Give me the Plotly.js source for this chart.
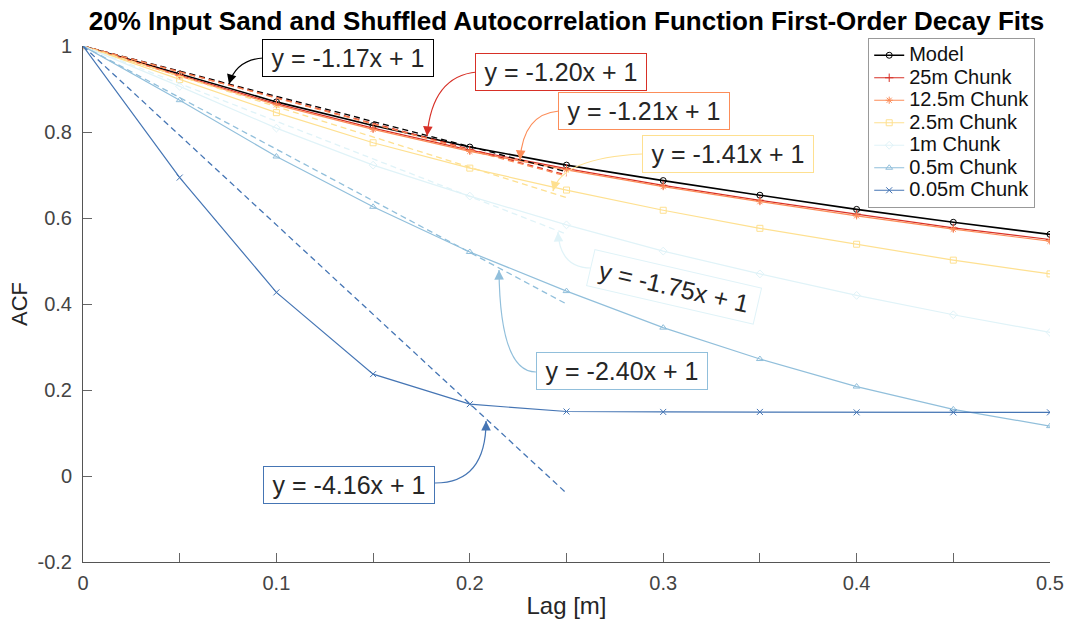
<!DOCTYPE html>
<html>
<head>
<meta charset="utf-8">
<script src="https://cdn.plot.ly/plotly-3.0.1.min.js"></script>
<style>html,body{margin:0;padding:0;background:#fff;}#chart{width:1073px;height:626px;}</style>
</head>
<body>
<div id="chart"></div>
<script>
// ---- data ----
const lags = [0, 0.05, 0.1, 0.15, 0.2, 0.25, 0.3, 0.35, 0.4, 0.45, 0.5];
const seriesNames = ["Model", "25m Chunk", "12.5m Chunk", "2.5m Chunk", "1m Chunk", "0.5m Chunk", "0.05m Chunk"];
const acfModel   = [1, 0.935, 0.870, 0.815, 0.765, 0.723, 0.687, 0.653, 0.620, 0.590, 0.562];
const acf25m     = [1, 0.932, 0.866, 0.809, 0.758, 0.715, 0.676, 0.641, 0.609, 0.577, 0.550];
const acf12_5m   = [1, 0.930, 0.863, 0.806, 0.755, 0.712, 0.673, 0.638, 0.605, 0.574, 0.546];
const acf2_5m    = [1, 0.922, 0.845, 0.775, 0.716, 0.665, 0.618, 0.576, 0.539, 0.502, 0.470];
const acf1m      = [1, 0.906, 0.809, 0.723, 0.651, 0.584, 0.523, 0.470, 0.420, 0.375, 0.334];
const acf0_5m    = [1, 0.874, 0.743, 0.626, 0.521, 0.430, 0.345, 0.272, 0.208, 0.155, 0.116];
const acf0_05m   = [1, 0.694, 0.427, 0.237, 0.167, 0.150, 0.149, 0.149, 0.148, 0.148, 0.148];
const fitSlopes  = [-1.17, -1.20, -1.21, -1.41, -1.75, -2.40, -4.16];
const fitX       = [0, 0.25];
const fitYStart  = [1, 1, 1, 1, 1, 1, 1];
const fitYEnd    = [0.7075, 0.70, 0.6975, 0.6475, 0.5625, 0.40, -0.04];
const xTickVals  = [0, 0.05, 0.1, 0.15, 0.2, 0.25, 0.3, 0.35, 0.4, 0.45, 0.5];
const xTickText  = ["0", "", "0.1", "", "0.2", "", "0.3", "", "0.4", "", "0.5"];
const yTickVals  = [-0.2, 0, 0.2, 0.4, 0.6, 0.8, 1];
const yTickText  = ["-0.2", "0", "0.2", "0.4", "0.6", "0.8", "1"];

// ---- styles ----
const allSeries = [acfModel, acf25m, acf12_5m, acf2_5m, acf1m, acf0_5m, acf0_05m];
const colors  = ["#000000", "#d73027", "#fc8d59", "#fee090", "#e0f3f8", "#91bfdb", "#4575b4"];
const symbols = ["circle-open", "cross-thin-open", "asterisk-open", "square-open", "diamond-open", "triangle-up-open", "x-thin-open"];
const widths  = [1.6, 1.2, 1.2, 1.2, 1.2, 1.2, 1.2];

const traces = [];
allSeries.forEach((ys, i) => {
  traces.push({
    x: lags, y: ys, type: "scatter", mode: "lines+markers",
    name: '<span style="font-size:20px">' + seriesNames[i] + '</span>',
    line: {color: colors[i], width: widths[i]},
    marker: {symbol: symbols[i], size: 6, color: colors[i], line: {color: colors[i], width: 1}}
  });
});
fitSlopes.forEach((s, i) => {
  traces.push({
    x: fitX, y: [fitYStart[i], fitYEnd[i]], type: "scatter", mode: "lines", showlegend: false,
    hoverinfo: "skip",
    line: {color: colors[i], width: 1.3, dash: "6px,4px"}
  });
});

// ---- annotation layout (positions in data units) ----
const boxPos = [
  {x: 0.1368, y: 0.9729, a: 0},
  {x: 0.2471, y: 0.9384, a: 0},
  {x: 0.2903, y: 0.8500, a: 0},
  {x: 0.3335, y: 0.7488, a: 0},
  {x: 0.3058, y: 0.4390, a: 13},
  {x: 0.2787, y: 0.2442, a: 0},
  {x: 0.1373, y: -0.0209, a: 0}
];
const curves = [
  {s: [0.0931, 0.9721], c: [0.0791, 0.9674], t: [0.0755, 0.9116]},
  {s: [0.2037, 0.9395], c: [0.1805, 0.9302], t: [0.1779, 0.7907]},
  {s: [0.2461, 0.8488], c: [0.2275, 0.8419], t: [0.2260, 0.7349]},
  {s: [0.2890, 0.7488], c: [0.2477, 0.7395], t: [0.2430, 0.6628]},
  {s: [0.2627, 0.4837], c: [0.2466, 0.4837], t: [0.2456, 0.5674]},
  {s: [0.2342, 0.2419], c: [0.2156, 0.2419], t: [0.2151, 0.4791]},
  {s: [0.1820, -0.0163], c: [0.2084, -0.0163], t: [0.2084, 0.1279]}
];
const pxPerX = 967 / 0.5, pxPerY = 516 / 1.2;

const annotations = [];
const shapes = [];
fitSlopes.forEach((s, i) => {
  const label = "y = " + s.toFixed(2) + "x + 1";
  annotations.push({
    x: boxPos[i].x, y: boxPos[i].y, xref: "x", yref: "y", showarrow: false,
    text: label, textangle: boxPos[i].a, width: 164, height: 30,
    font: {family: "Liberation Sans, Arial, sans-serif", size: 25, color: "#262626"},
    bgcolor: "#ffffff", bordercolor: colors[i], borderwidth: 1, borderpad: 3
  });
  const cv = curves[i];
  shapes.push({
    type: "path", xref: "x", yref: "y", layer: "above",
    path: `M ${cv.s[0]},${cv.s[1]} Q ${cv.c[0]},${cv.c[1]} ${cv.t[0]},${cv.t[1]}`,
    line: {color: colors[i], width: 1.2}
  });
  let dx = (cv.c[0] - cv.t[0]) * pxPerX, dy = -(cv.c[1] - cv.t[1]) * pxPerY;
  const L = Math.hypot(dx, dy) || 1;
  annotations.push({
    x: cv.t[0], y: cv.t[1], xref: "x", yref: "y", text: "", showarrow: true,
    ax: dx / L * 10, ay: dy / L * 10, arrowhead: 2, arrowsize: 1.6, arrowwidth: 1.2,
    arrowcolor: colors[i], standoff: 0
  });
});

const font = "Liberation Sans, Arial, Helvetica, sans-serif";
const layout = {
  width: 1073, height: 626,
  margin: {l: 83, r: 23, t: 46, b: 64},
  paper_bgcolor: "#ffffff", plot_bgcolor: "#ffffff",
  font: {family: font, color: "#262626"},
  title: {text: "<b>20% Input Sand and Shuffled Autocorrelation Function First-Order Decay Fits</b>",
          font: {family: font, size: 26, color: "#000000"},
          x: 0.5, xref: "paper", xanchor: "center", y: 0.967, yref: "container", yanchor: "middle"},
  xaxis: {range: [0, 0.5], tickvals: xTickVals, ticktext: xTickText, ticks: "inside", ticklen: 9,
          tickcolor: "#666", tickwidth: 1, showline: true, linecolor: "#555", linewidth: 1,
          showgrid: false, zeroline: false, mirror: false,
          tickfont: {family: font, size: 20, color: "#444"}, ticklabelstandoff: 3,
          title: {text: "Lag [m]", font: {family: font, size: 24, color: "#262626"}, standoff: 4}},
  yaxis: {range: [-0.2, 1], tickvals: yTickVals, ticktext: yTickText, ticks: "inside", ticklen: 9,
          tickcolor: "#666", tickwidth: 1, showline: true, linecolor: "#555", linewidth: 1,
          showgrid: false, zeroline: false, mirror: false,
          tickfont: {family: font, size: 20, color: "#444"}, ticklabelstandoff: 6,
          title: {text: "ACF", font: {family: font, size: 22, color: "#262626"}, standoff: 3}},
  legend: {x: 0.812, y: 1.0155, xanchor: "left", yanchor: "top", bgcolor: "#ffffff",
           bordercolor: "#999", borderwidth: 1, font: {family: font, size: 15, color: "#111"},
           itemwidth: 30, tracegroupgap: 0},
  annotations: annotations,
  shapes: shapes,
  showlegend: true
};

Plotly.newPlot("chart", traces, layout, {displayModeBar: false, staticPlot: true});
</script>
</body>
</html>
